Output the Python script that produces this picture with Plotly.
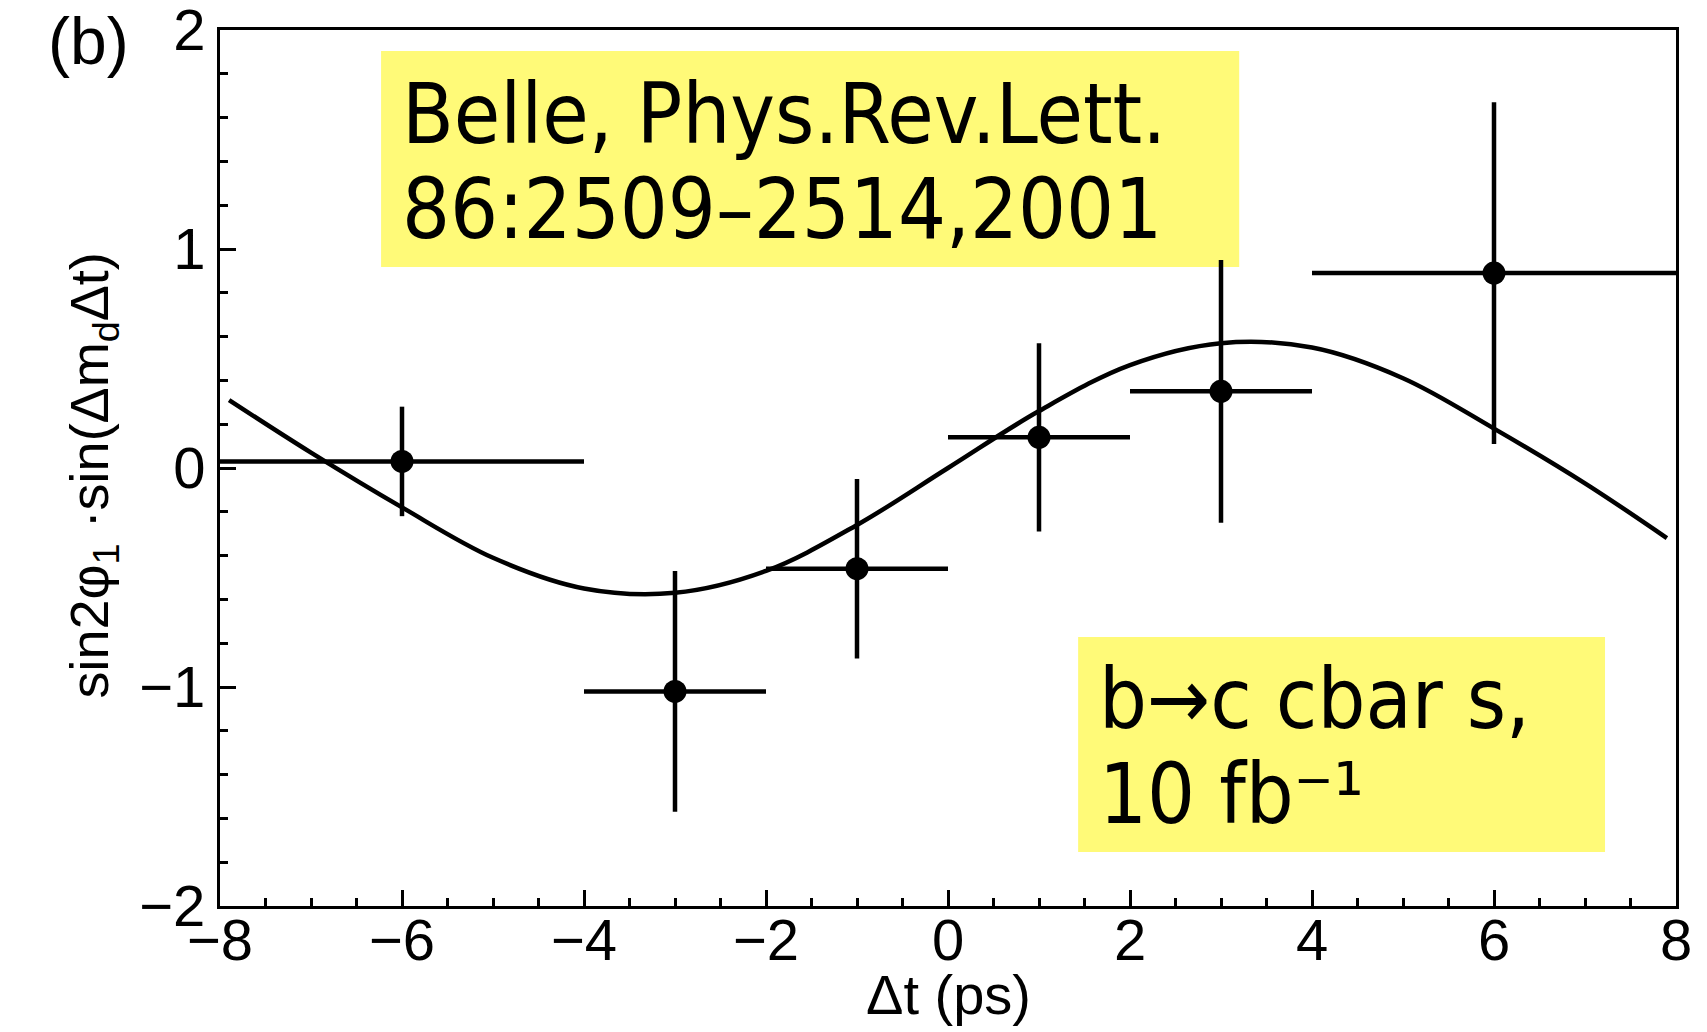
import plotly.graph_objects as go

# Measured points (Δt bin centres, asymmetry values, errors)
dt = [-6, -3, -1, 1, 3, 6]
asym = [0.03, -1.02, -0.46, 0.14, 0.35, 0.89]
dt_err_minus = [2, 1, 1, 1, 1, 2]
dt_err_plus = [2, 1, 1, 1, 1, 2]
asym_err = [0.25, 0.55, 0.41, 0.43, 0.60, 0.78]

# Fit curve
curve_t = [-7.9, -7, -6, -5, -4, -3, -2, -1, 0, 1, 2, 3, 4, 5, 6, 7, 7.9]
curve_y = [0.31, 0.07, -0.18, -0.41, -0.55, -0.57, -0.47, -0.26, 0.0,
           0.26, 0.47, 0.57, 0.55, 0.41, 0.18, -0.07, -0.32]

x_ticks = [-8, -6, -4, -2, 0, 2, 4, 6, 8]
y_ticks = [-2, -1, 0, 1, 2]

box1_lines = ["Belle, Phys.Rev.Lett.", "86:2509–2514,2001"]
box2_lines = ["b→c cbar s,", "10 fb⁻¹"]

YELLOW = "#FFFA78"
AXFONT = "Liberation Sans, Arial, Helvetica, sans-serif"
BOXFONT = "DejaVu Sans Condensed, Noto Sans, DejaVu Sans, sans-serif"

fig = go.Figure()

fig.add_trace(go.Scatter(
    x=curve_t, y=curve_y, mode="lines",
    line=dict(color="black", width=4.5, shape="spline", smoothing=1.0),
    hoverinfo="skip", showlegend=False,
))

fig.add_trace(go.Scatter(
    x=dt, y=asym, mode="markers",
    marker=dict(color="black", size=23),
    error_x=dict(type="data", symmetric=False, array=dt_err_plus,
                 arrayminus=dt_err_minus, color="black", thickness=4.5, width=0),
    error_y=dict(type="data", array=asym_err, color="black",
                 thickness=4.5, width=0),
    showlegend=False,
))

# Yellow label boxes
fig.add_shape(type="rect", xref="x", yref="y", x0=-6.23, x1=3.2, y0=0.918, y1=1.904,
              fillcolor=YELLOW, line=dict(width=0), layer="below")
fig.add_shape(type="rect", xref="x", yref="y", x0=1.43, x1=7.22, y0=-1.753, y1=-0.772,
              fillcolor=YELLOW, line=dict(width=0), layer="below")

for txt, yy in zip(box1_lines, [1.618, 1.182]):
    fig.add_annotation(x=-6.02, y=yy, xref="x", yref="y", xanchor="left", yanchor="middle",
                       align="left", showarrow=False, text=txt,
                       font=dict(family=BOXFONT, size=84, color="black"))
for txt, yy in zip(box2_lines, [-1.055, -1.489]):
    fig.add_annotation(x=1.64, y=yy, xref="x", yref="y", xanchor="left", yanchor="middle",
                       align="left", showarrow=False, text=txt,
                       font=dict(family=BOXFONT, size=84, color="black"))

fig.add_annotation(x=-0.090, y=0.988, xref="paper", yref="paper",
                   xanchor="center", yanchor="middle", showarrow=False,
                   text="(b)", font=dict(family=AXFONT, size=66, color="black"))

# Axis titles
fig.add_annotation(x=0.5, y=-0.1015, xref="paper", yref="paper",
                   xanchor="center", yanchor="middle", showarrow=False,
                   text="Δt (ps)", font=dict(family=AXFONT, size=56, color="black"))
fig.add_annotation(x=-0.0875, y=0.491, xref="paper", yref="paper", textangle=-90,
                   xanchor="center", yanchor="middle", showarrow=False,
                   text="sin2φ<sub>1</sub> ·sin(Δm<sub>d</sub>Δt)",
                   font=dict(family=AXFONT, size=54, color="black"))

fig.update_xaxes(
    range=[-8, 8], tickvals=x_ticks, ticks="inside", ticklen=16, tickwidth=3,
    tickcolor="black", showline=True, linewidth=3, linecolor="black", mirror=True,
    showgrid=False, zeroline=False, automargin=False, ticklabelstandoff=-19,
    ticklabeloverflow="allow",
    minor=dict(dtick=0.5, ticks="inside", ticklen=8, tickwidth=3, tickcolor="black", showgrid=False),
    tickfont=dict(family=AXFONT, size=58, color="black"),
)
fig.update_yaxes(
    range=[-2, 2], tickvals=y_ticks, ticks="inside", ticklen=16, tickwidth=3,
    tickcolor="black", showline=True, linewidth=3, linecolor="black", mirror=True,
    showgrid=False, zeroline=False, automargin=False, ticklabeloverflow="allow",
    minor=dict(dtick=0.2, ticks="inside", ticklen=8, tickwidth=3, tickcolor="black", showgrid=False),
    tickfont=dict(family=AXFONT, size=58, color="black"),
)

fig.update_layout(
    width=1707, height=1032,
    margin=dict(l=220, r=31, t=30, b=126),
    paper_bgcolor="white", plot_bgcolor="white",
)

fig.write_html("out.html")
